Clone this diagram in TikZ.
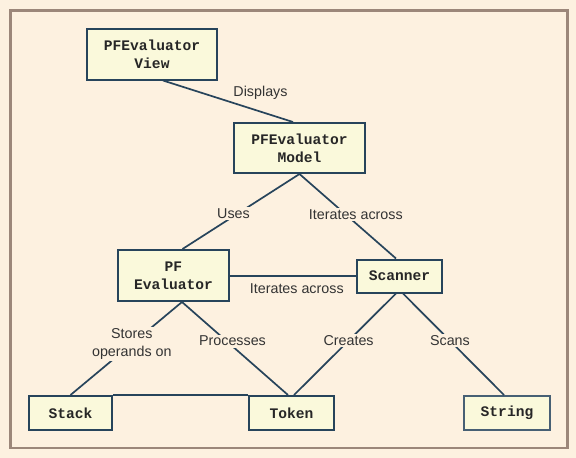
\documentclass[tikz,border=0pt]{standalone}
\usepackage{fontspec}
\setmainfont{Liberation Sans}
\setmonofont{Liberation Mono}
\usepackage{tikz}
\usepackage{xcolor}
\usetikzlibrary{positioning,calc}
\definecolor{paper}{HTML}{FDF1E0}
\definecolor{frame}{HTML}{9C877A}
\definecolor{boxfill}{HTML}{FAF9DB}
\definecolor{boxline}{HTML}{27445B}
\definecolor{ink}{HTML}{333333}

\begin{document}
\begin{tikzpicture}[x=1pt,y=-1pt,
    cls/.style={draw=boxline,fill=boxfill,line width=2pt,align=center,
      inner sep=0pt,font=\fontsize{14.6}{17.8}\selectfont\ttfamily\bfseries,text=black!85},
    rel/.style={draw=boxline,line width=1.7pt},
    lbl/.style={fill=paper,inner sep=1.5pt,align=center,
      font=\fontsize{14.3}{18}\selectfont,text=ink}]
      \useasboundingbox[fill=paper] (0,0) rectangle (576,458);
      \draw[frame,line width=2.2pt] (10.5,10.5) rectangle (567.5,448);
      % classes
      \node[cls,minimum width=130pt,minimum height=51pt] (view) at (152,54) {PFEvaluator\\View};
      \node[cls,minimum width=131pt,minimum height=50pt] (model) at (299.5,148) {PFEvaluator\\Model};
      \node[cls,minimum width=111pt,minimum height=51pt] (pf) at (173.5,275.5) {PF\\Evaluator};
      \node[cls,minimum width=85pt,minimum height=33pt] (scanner) at (399.5,276) {Scanner};
      \node[cls,minimum width=83pt,minimum height=34pt] (stack) at (70.5,413) {Stack};
      \node[cls,minimum width=85pt,minimum height=34pt] (token) at (291.5,413) {Token};
      \node[cls,minimum width=86pt,minimum height=34pt,draw=boxline!85] (string) at (507,413) {String};
      % relations
      \draw[rel] ([xshift=11pt]view.south) -- ([xshift=-6.5pt]model.north)
        node[lbl,fill=none,pos=0.75,yshift=19pt] {Displays};
      \draw[rel] (model.south) -- ([xshift=9pt]pf.north)
        node[lbl,pos=0.53,xshift=-4pt] {Uses};
      \draw[rel] (model.south) -- ([xshift=-3.5pt]scanner.north)
        node[lbl,pos=0.48,xshift=10pt] {Iterates across};
      \draw[rel] (pf.east |- scanner.west) -- (scanner.west)
        node[lbl,fill=none,pos=0.53,yshift=-12.5pt] {Iterates across};
      \draw[rel] ([xshift=8.5pt]pf.south) -- (stack.north)
        node[lbl,pos=0.45] {Stores\\operands on};
      \draw[rel] ([xshift=8.5pt]pf.south) -- ([xshift=-3.5pt]token.north)
        node[lbl,pos=0.42,xshift=6pt] {Processes};
      \draw[rel] ([xshift=-3.5pt]scanner.south) -- ([xshift=2.5pt]token.north)
        node[lbl,pos=0.465] {Creates};
      \draw[rel] ([xshift=3.5pt]scanner.south) -- ([xshift=-3pt]string.north)
        node[lbl,pos=0.465] {Scans};
      \draw[rel] (stack.north east) -- (token.north west);
    \end{tikzpicture}
\end{document}
